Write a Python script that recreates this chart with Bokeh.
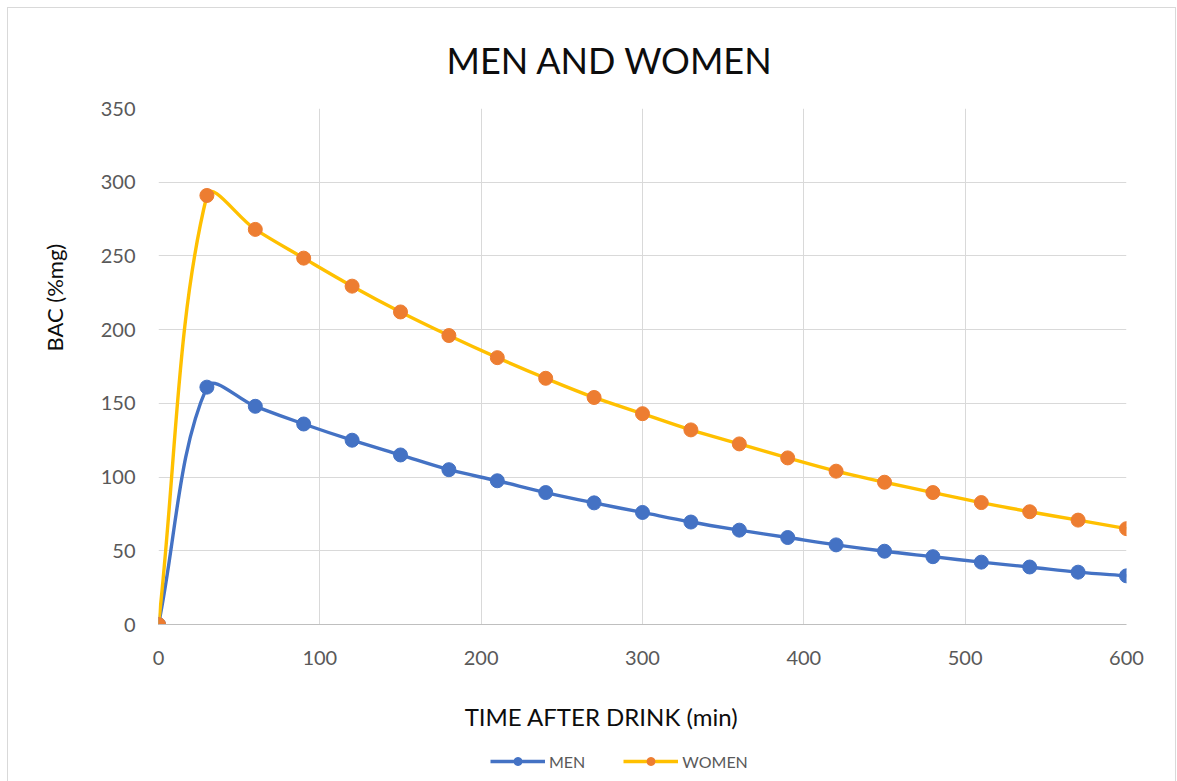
import math
from bokeh.plotting import figure
from bokeh.layouts import column
from bokeh.models import (Range1d, SingleIntervalTicker, Legend, LegendItem,
                          ColumnDataSource, Title, Label)
from bokeh.embed import file_html
from bokeh.resources import INLINE

# ---------------- data ----------------
time_min = [0, 30, 60, 90, 120, 150, 180, 210, 240, 270, 300,
            330, 360, 390, 420, 450, 480, 510, 540, 570, 600]
men_bac = [0, 161, 148, 136, 125, 115, 105, 97.5, 89.5, 82.5, 76,
           69.5, 64, 59, 54, 49.7, 46, 42.3, 39, 35.5, 33]
women_bac = [0, 291, 268, 248.5, 229.5, 212, 196, 181, 167, 154, 143,
             132, 122.5, 113, 104, 96.5, 89.5, 82.7, 76.5, 70.8, 65]
series_names = ["MEN", "WOMEN"]
title_text = "MEN AND WOMEN"
x_title = "TIME AFTER DRINK (min)"
y_title = "BAC (%mg)"

# ---------------- geometry ----------------
W = 1167
FL, FT, FW, FH = 150, 98, 968, 516
FR, FB = W - 150 - 968, 52
XMAX, YMAX = 600, 350
QH = 773 - (FT + FH + FB)
PAGE_X0 = 8          # page x of the content's left edge
FONT = "Lato"

p = figure(frame_width=FW, frame_height=FH, output_backend="svg",
           toolbar_location=None, x_range=Range1d(0, XMAX), y_range=Range1d(0, YMAX),
           min_border_left=FL, min_border_top=FT, min_border_right=FR,
           min_border_bottom=FB)
p.outline_line_color = None
p.background_fill_color = "white"
p.border_fill_color = "white"

for ax, iv in ((p.xaxis[0], 100), (p.yaxis[0], 50)):
    ax.ticker = SingleIntervalTicker(interval=iv)
    ax.major_tick_line_color = None
    ax.minor_tick_line_color = None
    ax.major_label_text_font = FONT
    ax.major_label_text_font_size = "20px"
    ax.major_label_text_color = "#595959"
p.xaxis.axis_line_color = "#bfbfbf"
p.xaxis.axis_line_width = 1
p.yaxis.axis_line_color = None
p.xaxis.major_label_standoff = 20
p.yaxis.major_label_standoff = 17

p.xgrid.ticker = SingleIntervalTicker(interval=100)
p.ygrid.ticker = SingleIntervalTicker(interval=50)
p.grid.grid_line_color = "#d9d9d9"
p.grid.grid_line_width = 1

# ---------------- smoothed lines (Excel-like bezier) ----------------
sx, sy = FW / XMAX, FH / YMAX
K = 0.36

def bez(xs, ys):
    n = len(xs)
    pts = [(x * sx, y * sy) for x, y in zip(xs, ys)]
    d = lambda a, b: math.hypot(a[0] - b[0], a[1] - b[1])
    out = dict(x0=[], y0=[], x1=[], y1=[], cx0=[], cy0=[], cx1=[], cy1=[])
    for i in range(n - 1):
        pp = pts[i - 1] if i > 0 else pts[i]
        p0, p1 = pts[i], pts[i + 1]
        pn = pts[i + 2] if i + 2 < n else pts[i + 1]
        d01, d12, d23 = d(pp, p0), d(p0, p1), d(p1, pn)
        f1 = K * d12 / (d01 + d12)
        f2 = K * d12 / (d12 + d23)
        c0 = (p0[0] + (p1[0] - pp[0]) * f1, p0[1] + (p1[1] - pp[1]) * f1)
        c1 = (p1[0] - (pn[0] - p0[0]) * f2, p1[1] - (pn[1] - p0[1]) * f2)
        out["x0"].append(p0[0] / sx); out["y0"].append(p0[1] / sy)
        out["x1"].append(p1[0] / sx); out["y1"].append(p1[1] / sy)
        out["cx0"].append(c0[0] / sx); out["cy0"].append(c0[1] / sy)
        out["cx1"].append(c1[0] / sx); out["cy1"].append(c1[1] / sy)
    return ColumnDataSource(out)

styles = [("#4472C4", "#4472C4"), ("#FFC000", "#ED7D31")]
LW = 3.4
MS = 14
for ys, (lc, mc) in zip([men_bac, women_bac], styles):
    p.bezier(x0="x0", y0="y0", x1="x1", y1="y1", cx0="cx0", cy0="cy0",
             cx1="cx1", cy1="cy1", source=bez(time_min, ys),
             line_color=lc, line_width=LW)
    p.scatter(time_min, ys, size=MS, fill_color=mc, line_color=mc)

# ---------------- titles ----------------
p.title.text = title_text
p.title.align = "left"
p.title.offset = 288
p.title.standoff = 54
p.title.text_font = FONT
p.title.text_font_style = "normal"
p.title.text_font_size = "36px"
p.title.text_color = "#0d0d0d"

yt = Title(text=y_title, align="left", offset=273, standoff=60, text_font=FONT,
           text_font_style="normal", text_font_size="22px", text_color="#0d0d0d")
p.add_layout(yt, "left")

# ---------------- lower strip: x title + legend ----------------
# the strip's frame is aligned with the chart's frame by the column layout,
# so its x range is expressed in page pixels of that frame
frame_left_page = PAGE_X0 + FL
q = figure(width=W, height=QH, output_backend="svg", toolbar_location=None,
           x_range=Range1d(frame_left_page, frame_left_page + FW),
           y_range=Range1d(0, QH),
           x_axis_type=None, y_axis_type=None, min_border=0)
q.grid.visible = False
q.outline_line_color = None
q.background_fill_color = "white"
q.border_fill_color = "white"

page_top_q = PAGE_X0 + FT + FH + FB  # page y of the strip's top edge
q.add_layout(Label(x=601, y=QH - (714 - page_top_q), text=x_title,
                   text_font=FONT, text_font_size="24px", text_color="#0d0d0d",
                   text_align="center", text_baseline="middle"))

items = []
for name, ys, (lc, mc) in zip(series_names, [men_bac, women_bac], styles):
    ll = q.line(time_min, ys, line_color=lc, line_width=LW, visible=False)
    ss = q.scatter(time_min, ys, size=MS, fill_color=mc, line_color=mc, visible=False)
    items.append(LegendItem(label=name, renderers=[ll, ss]))

leg_center_local = QH - (759 - page_top_q)
legend = Legend(items=items, orientation="horizontal",
                location=(490 - frame_left_page, leg_center_local - 10),
                padding=0, margin=0, spacing=38, glyph_width=55, glyph_height=20,
                label_standoff=4, label_text_font=FONT, label_text_font_size="16px",
                label_text_color="#595959", background_fill_alpha=0,
                border_line_alpha=0, label_height=20,
                inactive_fill_alpha=0, click_policy="none")
q.add_layout(legend, "center")

layout = column(p, q, spacing=0,
                styles={"margin-left": "7px", "margin-top": "7px",
                        "border-top": "1px solid #d9d9d9",
                        "border-left": "1px solid #d9d9d9",
                        "border-right": "1px solid #d9d9d9"})

open("out.html", "w").write(file_html(layout, INLINE))
